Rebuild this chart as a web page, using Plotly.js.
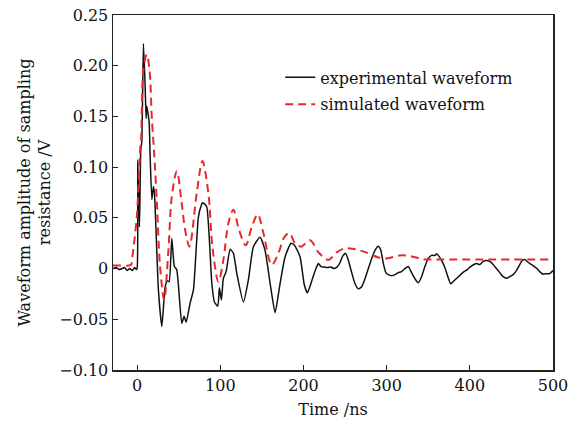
<!DOCTYPE html>
<html>
<head>
<meta charset="utf-8">
<script src="https://cdn.plot.ly/plotly-3.0.1.min.js"></script>
<style>html,body{margin:0;padding:0;background:#fff;}#chart{width:583px;height:425px;}</style>
</head>
<body>
<div id="chart"></div>
<script>
// Experimental waveform (black)
const expTime = [-29,-25,-22,-18,-15,-12,-9,-6,-3,-1,0,0.8,2.8,4.4,5.6,7.6,9.6,10.8,11.6,14.4,15.6,17.7,19.6,20.8,25.6,29.7,33.7,36.4,38.5,41.7,44.8,47.6,53.7,56.5,58.9,63.7,67.7,73.7,77.8,78.5,80.5,83.7,89.8,92.9,97,98.9,101.3,103.7,107,111.8,115.8,119.8,127.8,133.8,139.8,147.8,153.8,159.9,165.9,171.9,177.9,185,189,195.9,201,204.7,210,215,218,221,225,229,233,237,241,244,247,250.8,254,258,262,266,270,274,278,282,286,290,293,296,299,302,306,310,314,318,322,326,330,334,338,342,346,350,354,358,360,363,366,370,374,377,381,385,389,393,397,401,405,408,412,416,420,424,428,432,436,440,444,448,452,456,460,463,466,469,472,476,480,484,488,492,496,500];
const expVolt = [0.0,0.001,-0.001,0.0,0.001,-0.002,0.0,-0.002,0.001,-0.001,0.0,0.107,0.041,0.117,0.125,0.222,0.181,0.148,0.16,0.145,0.112,0.068,0.081,0.075,-0.021,-0.057,-0.018,-0.012,-0.013,0.030,0.002,-0.001,-0.054,-0.047,-0.053,-0.034,-0.021,0.051,0.064,0.065,0.064,0.061,-0.0145,-0.033,-0.037,-0.019,-0.031,-0.0096,-0.003,0.019,0.015,-0.0046,-0.033,-0.011,0.0216,0.031,0.018,-0.0145,-0.0435,-0.0145,0.0117,0.025,0.0233,0.0117,-0.016,-0.024,-0.012,0.0,0.005,0.002,0.0015,0.001,0.0015,0.0,0.002,0.006,0.012,0.015,0.008,-0.004,-0.015,-0.020,-0.018,-0.010,0.0,0.010,0.018,0.022,0.018,0.005,-0.004,-0.006,-0.007,-0.006,-0.004,-0.003,0.0,0.002,-0.004,-0.010,-0.014,-0.008,0.002,0.010,0.013,0.013,0.0145,0.012,0.008,0.001,-0.009,-0.015,-0.012,-0.009,-0.006,-0.003,-0.001,0.002,0.004,0.005,0.004,0.007,0.008,0.007,0.004,0.0,-0.004,-0.008,-0.0096,-0.008,-0.006,-0.002,0.004,0.008,0.009,0.007,0.005,0.003,0.0005,-0.003,-0.0055,-0.005,-0.005,-0.002];
// Simulated waveform (red dashed)
const simTime = [-29,-20,-10,-7,-5.6,-0.4,3.6,4.8,7.6,11.6,14.8,17.7,20.4,23.6,27.6,32.5,37.6,41.7,47.7,53.7,57.7,62.9,71.6,78.5,85.7,90.5,97.7,103.7,109.7,115.7,122.6,130.6,137.8,145,151.8,161.9,169.8,177,183,189.9,197,208,218,230,240,250,262,275,290,300,316,330,345,360,500];
const simVolt = [0.003,0.003,0.003,0.004,0.012,0.051,0.117,0.128,0.197,0.211,0.197,0.148,0.115,0.068,0.002,-0.031,0.018,0.071,0.096,0.064,0.038,0.0216,0.074,0.106,0.074,0.0216,-0.013,0.0085,0.0447,0.058,0.038,0.023,0.041,0.0535,0.035,0.0036,0.015,0.031,0.035,0.025,0.0216,0.028,0.016,0.0085,0.016,0.020,0.019,0.016,0.011,0.010,0.013,0.012,0.009,0.009,0.009];
const xTicks = [0,100,200,300,400,500];
const yTicks = [-0.10,-0.05,0,0.05,0.10,0.15,0.20,0.25];
const yTickText = ['\u22120.10','\u22120.05','0','0.05','0.10','0.15','0.20','0.25'];

const FONT = 'DejaVu Serif, Liberation Serif, serif';
const traces = [
  {x: expTime, y: expVolt, type: 'scatter', mode: 'lines', name: 'experimental waveform', legendgroup: 'a',
   line: {color: '#111111', width: 1.5, shape: 'spline', smoothing: 0.5}},
  {x: simTime, y: simVolt, type: 'scatter', mode: 'lines', name: 'simulated waveform', legendgroup: 'b',
   line: {color: '#e8282c', width: 2, dash: '8px,5px', shape: 'spline', smoothing: 0.9}}
];
const layout = {
  width: 583, height: 425,
  margin: {l: 113, r: 30, t: 15, b: 55},
  paper_bgcolor: '#ffffff', plot_bgcolor: '#ffffff',
  font: {family: FONT, size: 16, color: '#111111'},
  showlegend: true,
  legend: {x: 0.38, y: 0.872, xanchor: 'left', yanchor: 'top', bgcolor: 'rgba(0,0,0,0)',
           traceorder: 'grouped', tracegroupgap: 3,
           font: {family: FONT, size: 16, color: '#111111'}, itemwidth: 30},
  xaxis: {range: [-29, 500], tickvals: xTicks, ticktext: xTicks.map(String),
          ticks: 'inside', ticklen: 5, tickwidth: 1.2, tickcolor: '#222',
          showline: true, linecolor: '#222', linewidth: 1.5, mirror: true,
          showgrid: false, zeroline: false,
          title: {text: 'Time /ns', font: {family: FONT, size: 16}, standoff: 10}},
  yaxis: {range: [-0.10, 0.25], tickvals: yTicks, ticktext: yTickText,
          ticks: 'inside', ticklen: 5, tickwidth: 1.2, tickcolor: '#222',
          showline: true, linecolor: '#222', linewidth: 1.5, mirror: true,
          showgrid: false, zeroline: false,
          title: {text: 'Waveform amplitude of sampling<br>resistance /V', font: {family: FONT, size: 16}, standoff: 4}}
};
Plotly.newPlot('chart', traces, layout, {displayModeBar: false, staticPlot: true});
</script>
</body>
</html>
